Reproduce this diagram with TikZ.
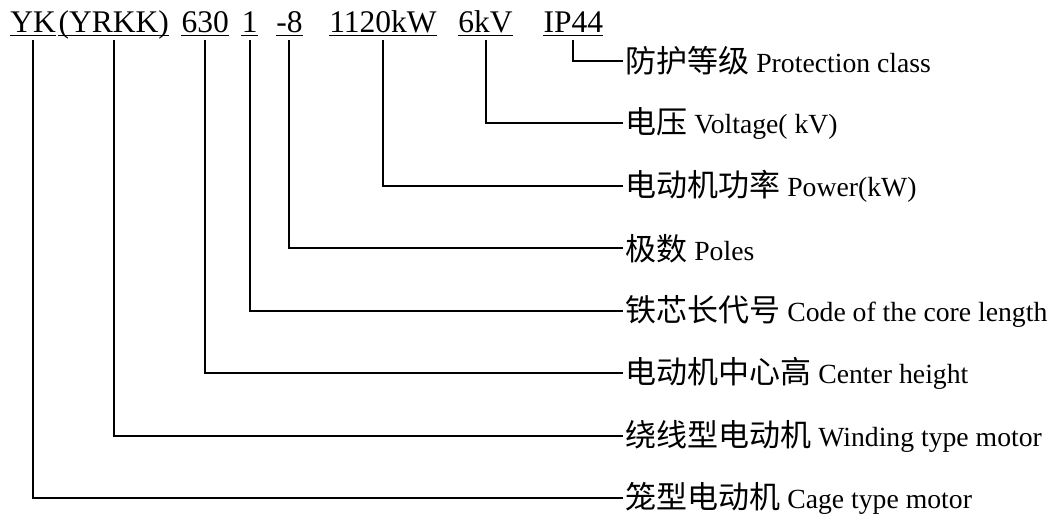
\documentclass[tikz,border=0pt]{standalone}
\usepackage{fontspec}
\setmainfont{Liberation Serif}
\newfontfamily\cjkfont{Noto Sans CJK SC}
\usepackage{tikz}
\usetikzlibrary{positioning}
\newcommand{\zh}[1]{{\fontsize{15.5pt}{18pt}\cjkfont #1}}

\begin{document}
\begin{tikzpicture}[
    code/.style={inner sep=0pt, text depth=1pt, font=\fontsize{15.75pt}{18pt}\selectfont},
    lbl/.style={anchor=west, inner sep=1pt, font=\fontsize{13.85pt}{16pt}\selectfont},
    uline/.style={line width=0.85pt},
    conn/.style={line width=1pt},
    node distance=31.25pt
]
\useasboundingbox (0,0) rectangle (529.5pt,-261pt);

% model code
\node[code, anchor=base west] (yk) at (5pt,-16.5pt) {YK};
\node[code, base right=1pt of yk] (yrkk) {(YRKK)};
\node[code, base right=6pt of yrkk] (height) {630};
\node[code, base right=6pt of height] (core) {1};
\node[code, base right=9pt of core] (poles) {-8};
\node[code, base right=13pt of poles] (power) {1120kW};
\node[code, base right=10.5pt of power] (volt) {6kV};
\node[code, base right=15pt of volt] (ip) {IP44};
\draw[uline] (yk.south west) -- (yk.south east) (yrkk.south west) -- (yrkk.south east)
    (height.south west) -- (height.south east) (core.south west) -- (core.south east)
    (poles.south west) -- (poles.south east) (power.south west) -- (power.south east)
    (volt.south west) -- (volt.south east) (ip.south west) -- (ip.south east);

% meanings
\node[lbl] (lprot) at (311.5pt,-30.5pt) {\zh{防护等级} Protection class};
\node[lbl, below=of lprot.west, anchor=west] (lvolt) {\zh{电压} Voltage( kV)};
\node[lbl, below=of lvolt.west, anchor=west] (lpow) {\zh{电动机功率} Power(kW)};
\node[lbl, below=of lpow.west, anchor=west] (lpole) {\zh{极数} Poles};
\node[lbl, below=of lpole.west, anchor=west] (lcore) {\zh{铁芯长代号} Code of the core length};
\node[lbl, below=of lcore.west, anchor=west] (lheight) {\zh{电动机中心高} Center height};
\node[lbl, below=of lheight.west, anchor=west] (lwind) {\zh{绕线型电动机} Winding type motor};
\node[lbl, below=of lwind.west, anchor=west] (lcage) {\zh{笼型电动机} Cage type motor};

\draw[conn] ([yshift=-2.5pt]ip.south) |- (lprot.west);
\draw[conn] ([yshift=-2.5pt]volt.south) |- (lvolt.west);
\draw[conn] ([yshift=-2.5pt]power.south) |- (lpow.west);
\draw[conn] ([yshift=-2.5pt]poles.south) |- (lpole.west);
\draw[conn] ([yshift=-2.5pt]core.south) |- (lcore.west);
\draw[conn] ([yshift=-2.5pt]height.south) |- (lheight.west);
\draw[conn] ([yshift=-2.5pt]yrkk.south) |- (lwind.west);
\draw[conn] ([yshift=-2.5pt]yk.south) |- (lcage.west);
\end{tikzpicture}
\end{document}
